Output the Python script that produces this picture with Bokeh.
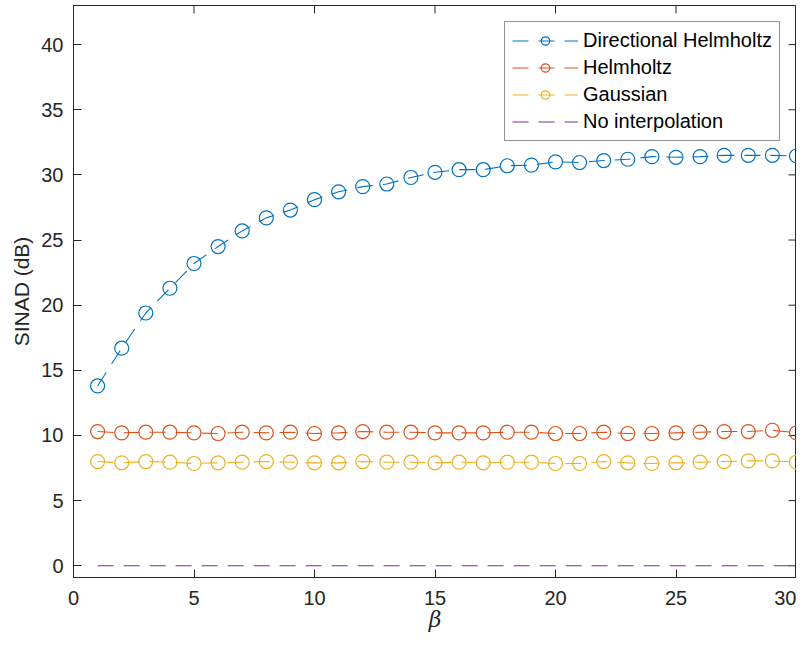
from bokeh.plotting import figure
from bokeh.models import Legend, LegendItem, Range1d, FixedTicker
from bokeh.embed import file_html
from bokeh.resources import INLINE

beta = list(range(1, 31))
directional_helmholtz = [13.8, 16.7, 19.4, 21.3, 23.2, 24.5, 25.7, 26.7, 27.3, 28.1,
                         28.7, 29.1, 29.3, 29.8, 30.2, 30.4, 30.4, 30.7, 30.75, 31.0,
                         30.95, 31.1, 31.2, 31.4, 31.35, 31.4, 31.5, 31.5, 31.5, 31.45]
helmholtz = [10.3, 10.2, 10.25, 10.25, 10.2, 10.15, 10.25, 10.2, 10.25, 10.15,
             10.2, 10.3, 10.25, 10.25, 10.2, 10.2, 10.2, 10.25, 10.25, 10.15,
             10.15, 10.25, 10.15, 10.15, 10.2, 10.25, 10.3, 10.3, 10.4, 10.2]
gaussian = [8.0, 7.9, 8.0, 7.95, 7.85, 7.9, 7.95, 8.0, 7.95, 7.9,
            7.9, 8.0, 7.95, 7.95, 7.9, 7.95, 7.9, 7.95, 7.95, 7.85,
            7.85, 8.0, 7.9, 7.85, 7.9, 7.95, 8.0, 8.05, 8.05, 7.95]
no_interp = [0.0] * 30

series = [
    ("Directional Helmholtz", directional_helmholtz, "#0072BD", True),
    ("Helmholtz", helmholtz, "#D95319", True),
    ("Gaussian", gaussian, "#EDB120", True),
    ("No interpolation", no_interp, "#7E2F8E", False),
]

x_ticks = [0, 5, 10, 15, 20, 25, 30]
y_ticks = [0, 5, 10, 15, 20, 25, 30, 35, 40]
x_label = "β"
y_label = "SINAD (dB)"

AX = "#262626"
FONT = "Liberation Sans"
X0, X1 = 0, 30
Y0, Y1 = -0.9, 43.0
W, H = 796, 634
ML, MR, MT, MB = 73, 0, 5, 56

p = figure(width=W, height=H, output_backend="svg", toolbar_location=None,
           x_range=Range1d(X0, X1), y_range=Range1d(Y0, Y1),
           min_border_left=ML, min_border_right=MR, min_border_top=MT, min_border_bottom=MB,
           x_axis_label=x_label, y_axis_label=y_label)
p.grid.visible = False
p.outline_line_color = AX
p.outline_line_width = 1
p.background_fill_color = "white"
p.border_fill_color = "white"

for ax in (p.xaxis[0], p.yaxis[0]):
    ax.axis_line_color = AX
    ax.major_tick_line_color = AX
    ax.major_tick_in = 8
    ax.major_tick_out = 0
    ax.minor_tick_line_color = None
    ax.major_label_text_font = FONT
    ax.major_label_text_font_size = "20px"
    ax.major_label_text_color = AX
    ax.major_label_text_line_height = 1.0
    ax.axis_label_text_color = AX
    ax.axis_label_text_line_height = 1.0
p.xaxis[0].ticker = FixedTicker(ticks=x_ticks)
p.yaxis[0].ticker = FixedTicker(ticks=y_ticks)
p.xaxis[0].major_label_standoff = 13
p.yaxis[0].major_label_standoff = 10
p.xaxis[0].axis_label_text_font = "DejaVu Serif"
p.xaxis[0].axis_label_text_font_style = "italic"
p.xaxis[0].axis_label_text_font_size = "22px"
p.xaxis[0].axis_label_standoff = -1
p.yaxis[0].axis_label_text_font = FONT
p.yaxis[0].axis_label_text_font_style = "normal"
p.yaxis[0].axis_label_text_font_size = "21px"
p.yaxis[0].axis_label_standoff = 5

fw = W - ML - MR
fh = H - MT - MB
py = (Y1 - Y0) / fh   # data units per pixel (y)
px = (X1 - X0) / fw   # data units per pixel (x)

# mirrored inward ticks on the top and right box edges
p.segment(x0=x_ticks, y0=[Y1] * len(x_ticks), x1=x_ticks, y1=[Y1 - 8 * py] * len(x_ticks),
          line_color=AX, line_width=1)
p.segment(x0=[X1] * len(y_ticks), y0=y_ticks, x1=[X1 - 8 * px] * len(y_ticks), y1=y_ticks,
          line_color=AX, line_width=1)

items = []
for name, vals, color, markers in series:
    r_line = p.line(beta, vals, line_color=color, line_width=1.1, line_dash="16 10")
    rs = [r_line]
    if markers:
        r_sc = p.scatter(beta, vals, marker="circle", size=14, fill_color=None,
                         line_color=color, line_width=1.2)
        rs.append(r_sc)
    items.append(LegendItem(label=name, renderers=rs))

legend = Legend(items=items, location=(431, 436),
                label_text_font=FONT, label_text_font_size="20px", label_text_color="#000000",
                glyph_width=66, glyph_height=21, spacing=4, padding=7, margin=0,
                label_standoff=5,
                border_line_color=AX, border_line_width=1, background_fill_color="white")
p.add_layout(legend, "center")

open("out.html", "w").write(file_html(p, INLINE))
